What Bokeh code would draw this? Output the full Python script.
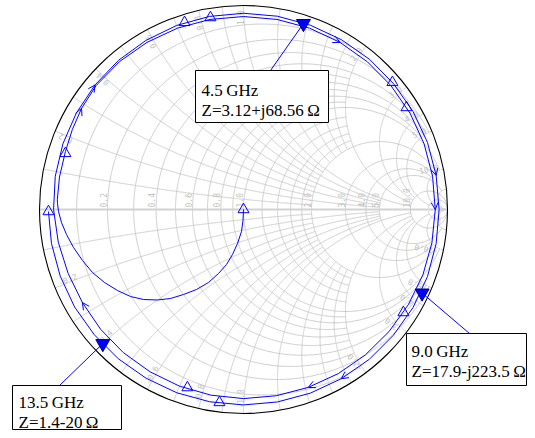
import numpy as np
from bokeh.plotting import figure
from bokeh.models import Range1d, Label, Arrow, OpenHead
from bokeh.embed import file_html
from bokeh.resources import INLINE
from bokeh.core.properties import value

Z0 = 50.0

# ---------------- grid definition (normalised impedance) ----------------
res_ticks = [0.1, 0.2, 0.3, 0.4, 0.5, 0.6, 0.7, 0.8, 0.9, 1.0,
             1.2, 1.4, 1.6, 1.8, 2.0, 3.0, 4.0, 5.0, 10.0, 20.0]
res_stop = [2, 5, 2, 5, 2, 5, 2, 5, 2, 10,
            2, 2, 2, 2, 10, 10, 10, 20, None, None]
reac_ticks = [0.1, 0.2, 0.3, 0.4, 0.5, 0.6, 0.7, 0.8, 0.9, 1.0,
              1.2, 1.4, 1.6, 1.8, 2.0, 3.0, 4.0, 5.0, 10.0, 20.0]
reac_stop = [2, 5, 2, 5, 2, 5, 2, 5, 2, 10,
             2, 2, 2, 2, 10, 10, 10, 20, None, None]
res_label_ticks = [0.2, 0.4, 0.6, 0.8, 1.0, 2.0, 3.0, 4.0, 5.0, 10.0]
reac_label_ticks = [0.2, 0.4, 0.6, 0.8, 1.0, 2.0, 3.0, 4.0, 5.0, 10.0]

# ---------------- traced curve (reflection coefficient) ----------------
arc_re = [0.0, -0.0025, -0.0098, -0.0294, -0.0539, -0.0833, -0.1225, -0.1716,
          -0.2304, -0.2941, -0.3578, -0.4216, -0.4902, -0.5539, -0.6176,
          -0.6814, -0.7402, -0.7892, -0.8333, -0.8676, -0.8922, -0.9069, -0.9118]
arc_im = [0.0, -0.0539, -0.1078, -0.1667, -0.2206, -0.2696, -0.3137, -0.3578,
          -0.3922, -0.4167, -0.4363, -0.4436, -0.4412, -0.4265, -0.3971,
          -0.3578, -0.3088, -0.2500, -0.1863, -0.1225, -0.0637, -0.0098, 0.0294]

loop_deg = [177, 170, 162, 155, 148, 140, 130, 120, 110, 100, 90, 80, 70, 60,
            50, 40, 30, 20, 10, 0, -10, -20, -30, -40, -50, -60, -70, -80,
            -90, -100, -110, -120, -130, -140, -150, -160, -170, -180,
            -190, -200, -210, -220, -230, -240, -250, -260, -270, -280, -290,
            -300, -310, -320, -330, -340, -350, -360, -370, -380, -390, -400,
            -410, -420, -430, -440, -450, -460, -470, -480, -490, -500, -510,
            -520, -530, -539.4]
loop_mag = [0.914, 0.916, 0.918, 0.926, 0.936, 0.944, 0.946, 0.946, 0.946,
            0.946, 0.946, 0.946, 0.946, 0.946, 0.945, 0.944, 0.943, 0.942,
            0.941, 0.940, 0.938, 0.936, 0.933, 0.931, 0.930, 0.929, 0.928,
            0.927, 0.927, 0.924, 0.921, 0.918, 0.916, 0.914, 0.912, 0.915,
            0.922, 0.931,
            0.937, 0.942, 0.946, 0.950, 0.954, 0.957, 0.960, 0.961, 0.962,
            0.962, 0.961, 0.961, 0.961, 0.960, 0.960, 0.960, 0.959, 0.959,
            0.959, 0.960, 0.960, 0.959, 0.959, 0.958, 0.958, 0.958, 0.958,
            0.957, 0.956, 0.955, 0.955, 0.955, 0.956, 0.956, 0.956, 0.956]

arrow_deg = [148, 60, 0, -70, -150, -220, -350, -420]

open_mark_re = [0.0, -0.956, -0.873, -0.289, -0.162, 0.730, 0.799, 0.784, -0.118, -0.275]
open_mark_im = [0.0, -0.010, 0.275, 0.917, 0.941, 0.623, 0.500, -0.505, -0.946, -0.873]

marker_freq_ghz = [4.5, 9.0, 13.5]
marker_z_re = [3.12, 17.9, 1.4]
marker_z_im = [68.56, -223.5, -20.0]
marker_texts = ["Z=3.12+j68.56\u2009\u03a9", "Z=17.9-j223.5\u2009\u03a9", "Z=1.4-20\u2009\u03a9"]

# ---------------- layout (pixels) ----------------
PX = 204.0
CX, CY = 243.0, 209.0
W, H = 527, 430


def at(x, y):
    return (x - CX) / PX, (CY - y) / PX


BLUE = "#0000ff"
GRID = "#c6c6c6"
LBL = "#c0c0c0"

p = figure(width=W, height=H, output_backend="svg", toolbar_location=None,
           x_axis_type=None, y_axis_type=None, min_border=0,
           x_range=Range1d(-CX / PX, (W - CX) / PX),
           y_range=Range1d((CY - H) / PX, CY / PX))
p.outline_line_color = None
p.background_fill_color = "white"
p.border_fill_color = "white"


def gam(z):
    return (z - 1) / (z + 1)


gx, gy = [], []
for r, stop in zip(res_ticks, res_stop):
    tmax = np.arctan(stop) if stop else np.pi / 2 - 1e-7
    t = np.linspace(-tmax, tmax, 700)
    g = gam(r + 1j * np.tan(t))
    gx.append(g.real.tolist()); gy.append(g.imag.tolist())
for x, stop in zip(reac_ticks, reac_stop):
    tmax = np.arctan(stop) if stop else np.pi / 2 - 1e-7
    t = np.linspace(0, tmax, 700)
    for s in (1, -1):
        g = gam(np.tan(t) + 1j * s * x)
        gx.append(g.real.tolist()); gy.append(g.imag.tolist())
p.multi_line(gx, gy, line_color=GRID, line_width=0.9)
p.line([-1, 1], [0, 0], line_color="#d2d2d2", line_width=1.8)

# grid labels
lab_font = value("DejaVu Sans Mono")
rx = [(r - 1) / (r + 1) - 0.8 / PX for r in res_label_ticks]
p.text(x=rx, y=[2.0 / PX] * len(rx), text=["%.1f" % r for r in res_label_ticks],
       angle=np.pi / 2, text_align="left", text_baseline="bottom",
       text_font=lab_font, text_font_size="8px", text_color=LBL)
phi = [np.pi - 2 * np.arctan(x) for x in reac_label_ticks]
R = 1 - 5.0 / PX
p.text(x=[R * np.cos(a) for a in phi], y=[R * np.sin(a) for a in phi],
       text=["%.1f" % x for x in reac_label_ticks], angle=phi,
       text_align="right", text_baseline="bottom",
       text_font=lab_font, text_font_size="8px", text_color=LBL)
p.text(x=[R * np.cos(-a) for a in phi], y=[R * np.sin(-a) for a in phi],
       text=["-%.1f" % x for x in reac_label_ticks], angle=[np.pi - a for a in phi],
       text_align="left", text_baseline="bottom",
       text_font=lab_font, text_font_size="8px", text_color=LBL)

# outer circle
p.ellipse(x=0, y=0, width=2, height=2, fill_color=None, line_color="black", line_width=1.1)

# curve
lr = [m * np.cos(np.radians(d)) for d, m in zip(loop_deg, loop_mag)]
li = [m * np.sin(np.radians(d)) for d, m in zip(loop_deg, loop_mag)]
p.line(arc_re + lr, arc_im + li, line_color=BLUE, line_width=1.0)

for d in arrow_deg:
    k = loop_deg.index(d)
    p.add_layout(Arrow(end=OpenHead(size=7, line_color=BLUE, line_width=1.0),
                       x_start=lr[k - 1], y_start=li[k - 1], x_end=lr[k], y_end=li[k],
                       line_alpha=0))

p.scatter(open_mark_re, open_mark_im, marker="triangle", size=11,
          fill_color=None, line_color=BLUE, line_width=1.0)

zm = (np.array(marker_z_re) + 1j * np.array(marker_z_im))
gm = (zm - Z0) / (zm + Z0)

# annotation boxes: (left, top, right, bottom), leader anchor, text origin
boxes = [(195, 70, 328, 122), (406, 333, 526, 385), (12, 385, 121, 429)]
leaders = [(270, 70), (469, 333), (59, 385)]
text_org = [(201, 90), (411, 351), (18, 402)]
LINE_GAP = 19.5

for k in range(3):
    ax, ay = at(*leaders[k])
    p.line([ax, gm[k].real], [ay, gm[k].imag], line_color=BLUE, line_width=1.0)

p.scatter(gm.real, gm.imag, marker="inverted_triangle", size=14,
          fill_color=BLUE, line_color="#00008b", line_width=1.0)

for k in range(3):
    l, t, rr, b = boxes[k]
    x0, y0 = at(l, t)
    x1, y1 = at(rr, b)
    p.quad(left=x0, right=x1, top=y0, bottom=y1, fill_color="white",
           line_color="black", line_width=1.0)
    tx, ty = text_org[k]
    for j, s in enumerate(["%.1f\u2009GHz" % marker_freq_ghz[k], marker_texts[k]]):
        lx, ly = at(tx, ty + j * LINE_GAP)
        p.add_layout(Label(x=lx, y=ly, text=s, text_font="Liberation Serif",
                           text_font_size="17px", text_color="black",
                           text_baseline="alphabetic", text_align="left"))

open("out.html", "w").write(file_html(p, INLINE))
